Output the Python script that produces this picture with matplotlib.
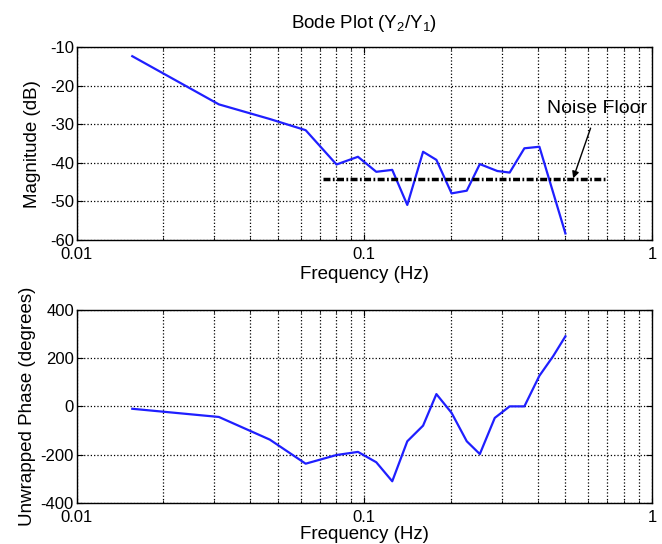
import matplotlib.pyplot as plt
from matplotlib.ticker import FixedLocator, FixedFormatter, LogLocator, NullFormatter

plt.rcParams['font.family'] = ['Liberation Sans', 'DejaVu Sans']
plt.rcParams['mathtext.default'] = 'regular'
plt.rcParams['axes.unicode_minus'] = False

# magnitude response
freq_mag = [0.0156, 0.0312, 0.0469, 0.0625, 0.080, 0.095, 0.110, 0.125, 0.141,
            0.160, 0.178, 0.201, 0.227, 0.252, 0.290, 0.320, 0.360, 0.406, 0.500]
mag_db = [-12.3, -24.8, -28.6, -31.5, -40.4, -38.4, -42.3, -41.8, -50.9,
          -37.1, -39.2, -47.9, -47.2, -40.3, -42.1, -42.5, -36.2, -35.8, -58.3]

# unwrapped phase
freq_ph = [0.0156, 0.0312, 0.0469, 0.0625, 0.080, 0.095, 0.110, 0.125, 0.141, 0.160,
           0.178, 0.201, 0.227, 0.252, 0.284, 0.320, 0.360, 0.406, 0.453, 0.500]
phase_deg = [-10, -44, -138, -238, -202, -189, -232, -311, -145, -80,
             51, -27, -145, -198, -48, 0, 0, 127, 208, 291]

noise_freq = [0.072, 0.686]
noise_db = [-44.2, -44.2]

x_ticks = [0.01, 0.1, 1]
x_labels = ['0.01', '0.1', '1']
mag_ticks = [-10, -20, -30, -40, -50, -60]
ph_ticks = [-400, -200, 0, 200, 400]

blue = '#1f1fff'


def style_axes(ax, yticks, ylim, xpad):
    ax.set_xscale('log')
    ax.set_xlim(0.01, 1)
    ax.set_ylim(*ylim)
    ax.xaxis.set_major_locator(FixedLocator(x_ticks))
    ax.xaxis.set_major_formatter(FixedFormatter(x_labels))
    ax.xaxis.set_minor_locator(LogLocator(base=10, subs=range(2, 10)))
    ax.xaxis.set_minor_formatter(NullFormatter())
    ax.set_yticks(yticks)
    ax.grid(True, which='both', axis='x', linestyle=':', color='black', linewidth=0.9)
    ax.grid(True, which='major', axis='y', linestyle=':', color='black', linewidth=0.9)
    ax.tick_params(which='both', direction='in', top=True, right=True, labelsize=12)
    ax.tick_params(axis='y', pad=2)
    ax.tick_params(axis='x', pad=5)
    ax.tick_params(which='major', length=4)
    ax.tick_params(which='minor', length=2)
    for s in ax.spines.values():
        s.set_linewidth(1.0)
    ax.set_xlabel('Frequency (Hz)', fontsize=13.5, labelpad=xpad)


fig = plt.figure(figsize=(6.62, 5.44), dpi=100)
ax1 = fig.add_axes([0.1159, 0.5588, 0.869, 0.3542])
ax2 = fig.add_axes([0.1159, 0.0759, 0.869, 0.3542])

ax1.plot(freq_mag, mag_db, color=blue, linewidth=1.6)
ax1.plot(noise_freq, noise_db, color='black', linewidth=2.5,
         linestyle=(0, (2.0, 0.7, 0.5, 0.7)))
ax1.annotate('Noise Floor', xy=(0.532, -44.0), xytext=(0.645, -26.0),
             ha='center', va='center', fontsize=14,
             arrowprops=dict(arrowstyle='-|>', color='black', lw=1.0,
                             shrinkA=6, shrinkB=0, mutation_scale=10))
style_axes(ax1, mag_ticks, (-60, -10), 3)
ax1.set_ylabel('Magnitude (dB)', fontsize=13.5, labelpad=6)
ax1.set_title('Bode Plot (Y$_2$/Y$_1$)', fontsize=13.5, pad=14)

ax2.plot(freq_ph, phase_deg, color=blue, linewidth=1.6)
style_axes(ax2, ph_ticks, (-400, 400), 1)
ax2.set_ylabel('Unwrapped Phase (degrees)', fontsize=13.5, labelpad=3)

fig.savefig('out.png', dpi=100)
